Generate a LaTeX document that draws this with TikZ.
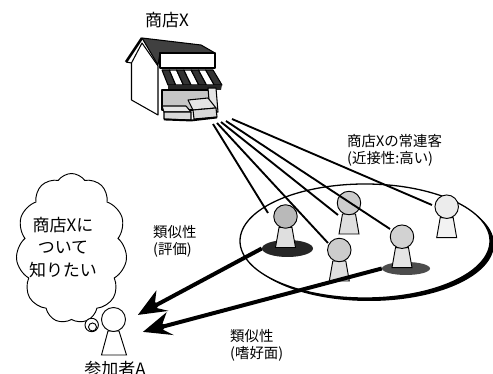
\documentclass[tikz,border=0pt]{standalone}
\usepackage{fontspec}
\setmainfont{Noto Sans CJK JP}
\usetikzlibrary{positioning}
\usetikzlibrary{calc}
\usetikzlibrary{shapes.geometric, shapes.symbols, decorations.markings}

% one unit of the picture
\newcommand{\upx}{0.03cm}

% a pawn: head node name, x, y, head fill, body fill
\newcommand{\pawn}[5]{%
  \draw[figline, fill=#5] ({#2-6.5},{#3+11}) -- ({#2+6.5},{#3+11}) -- ({#2+10},{#3+31}) -- ({#2-10},{#3+31}) -- cycle;
  \node[head, fill=#4] (#1) at (#2,#3) {};
}

\tikzset{
  figline/.style={line width=0.8pt},
  head/.style={circle, draw, line width=0.8pt, inner sep=0pt, minimum size=23.5*\upx},
  house/.style={draw, line width=0.9pt, line join=round},
  fan/.style={line width=1.6pt},
  lbl/.style={align=left, inner sep=0pt, font=\fontsize{12.3}{14.5}\selectfont},
  big/.style={inner sep=0pt, font=\fontsize{14.5}{19.5}\selectfont},
  bolt/.style={line width=3.4pt, postaction={decorate},
    decoration={markings, mark=at position 1 with {
      \fill (7,0) -- (-21,13) -- (-14,3) -- (-17,0) -- (-13,-3) -- (-22,-11) -- cycle;}}}
}

\begin{document}
\begin{tikzpicture}[x=0.03cm, y=-0.03cm]
    \useasboundingbox (0,0) rectangle (493,374);

    % the regulars' circle with its heavy shadow
    \node (ringshadow) [ellipse, fill=black, minimum width=250*\upx, minimum height=114*\upx] at (369,244) {};
    \node (regulars) [ellipse, draw, fill=white, line width=1.1pt, minimum width=250*\upx, minimum height=114*\upx] at (365,241) {};

    % dark spots under the two similar customers
    \node (sh1) [ellipse, fill=black!85, minimum width=51*\upx, minimum height=17*\upx] at (287.5,248.5) {};
    \node (sh4) [ellipse, fill=black!70, minimum width=48*\upx, minimum height=13*\upx] at (406,268.5) {};

    % customers
    \pawn{p1}{285.5}{216.5}{gray!55}{gray!25}
    \pawn{p3}{349}{203}{gray!40}{gray!25}
    \pawn{p5}{446.7}{206.7}{gray!15}{gray!10}
    \pawn{p2}{339.3}{250}{gray!40}{gray!25}
    \pawn{p4}{402}{236.7}{gray!35}{gray!20}

    % shop
    \node (shoplabel) [big] at (167,20.5) {商店X};
    \draw[house, fill=white] (131.5,63) -- (142,43) -- (158,66) -- (158,115) -- (131.5,100) -- cycle;
    \draw[house, fill=black!75] (142,38) -- (201,45) -- (215,53) -- (160,53) -- (158,65) -- cycle;
    \draw[line width=2.2pt] (126,62) -- (142,38);
    \draw[house] (126,62) -- (131.5,63);
    \draw[house, fill=white] (160,53) rectangle (215,68);
    \foreach \i/\c in {0/black!80, 1/white, 2/black!80, 3/white, 4/black!80, 5/white, 6/black!80}
        \draw[house, fill=\c] ({162+\i*7.29},70) -- ({162+(\i+1)*7.29},70) -- ({168+(\i+1)*7.71},85) -- ({168+\i*7.71},85) -- cycle;
    \fill[black!85] (168,85) -- (222,85) -- (221,90) -- (168,90) -- cycle;
    \draw[house, fill=gray!45] (162,90) rectangle (210,110);
    \draw[house, fill=gray!20] (208,88) -- (216,88) -- (218,112) -- (210,112) -- cycle;
    \draw[house, fill=gray!20] (162,106) -- (186,106) -- (191,112) -- (164,112) -- cycle;
    \draw[house, fill=gray!30] (164,112) -- (191,112) -- (191,120) -- (164,119) -- cycle;
    \draw[house, fill=gray!20] (188,100) -- (208,98) -- (216,108) -- (193,110) -- cycle;
    \draw[house, fill=gray!30] (193,110) -- (216,108) -- (217,117) -- (194,119) -- cycle;
    \draw[line width=1.6pt] (164,119.5) -- (191,120.5) -- (217,117.5);

    % lines from the shop to its regulars
    \coordinate (s1) at (213,124);
    \coordinate (s2) at (217,123);
    \coordinate (s3) at (221,122);
    \coordinate (s4) at (226,121);
    \coordinate (s5) at (232,119);
    \coordinate (e1) at (268,213);
    \coordinate (e2) at (328,243);
    \coordinate (e3) at (338,215);
    \coordinate (e4) at (390,229);
    \coordinate (e5) at (432,205);
    \foreach \k in {1,...,5}
        \draw[fan] (s\k) -- (e\k);

    % participant A and the wish
    \node (wish) [cloud, draw, line width=0.8pt, cloud puffs=11, cloud puff arc=110, cloud ignores aspect,
        minimum width=111*\upx, minimum height=150*\upx] at (71.5,248.5) {};
    \node (wishtext) [big, align=center] at (63,247.5) {商店Xに\\ついて\\知りたい};
    \node (bub1) [circle, draw, line width=0.8pt, fill=white, inner sep=0pt, minimum size=13.4*\upx] at (91.7,325) {};
    \node (bub2) [circle, draw, line width=0.8pt, inner sep=0pt, minimum size=8*\upx] at (92.5,327) {};
    \draw[figline, fill=white] (108,331) -- (119,331) -- (126.5,355) -- (101.5,355) -- cycle;
    \node (pa) [head, fill=white, minimum size=24*\upx] at (113.5,319.5) {};
    \node (palabel) [big] at (115,369) {参加者A};

    % similarity arrows
    \coordinate (t1) at (144.1,311.6);
    \coordinate (t2) at (149.7,330.1);
    \draw[bolt] (sh1.west) -- (t1);
    \draw[bolt] (sh4.west) -- (t2);

    % labels
    \node (rating) [lbl, anchor=west] at (153,241) {類似性\\(評価)};
    \node (taste) [lbl, anchor=west] at (230,345) {類似性\\(嗜好面)};
    \node (regtext) [lbl, anchor=west] at (347,150) {商店Xの常連客\\(近接性:高い)};
\end{tikzpicture}
\end{document}
